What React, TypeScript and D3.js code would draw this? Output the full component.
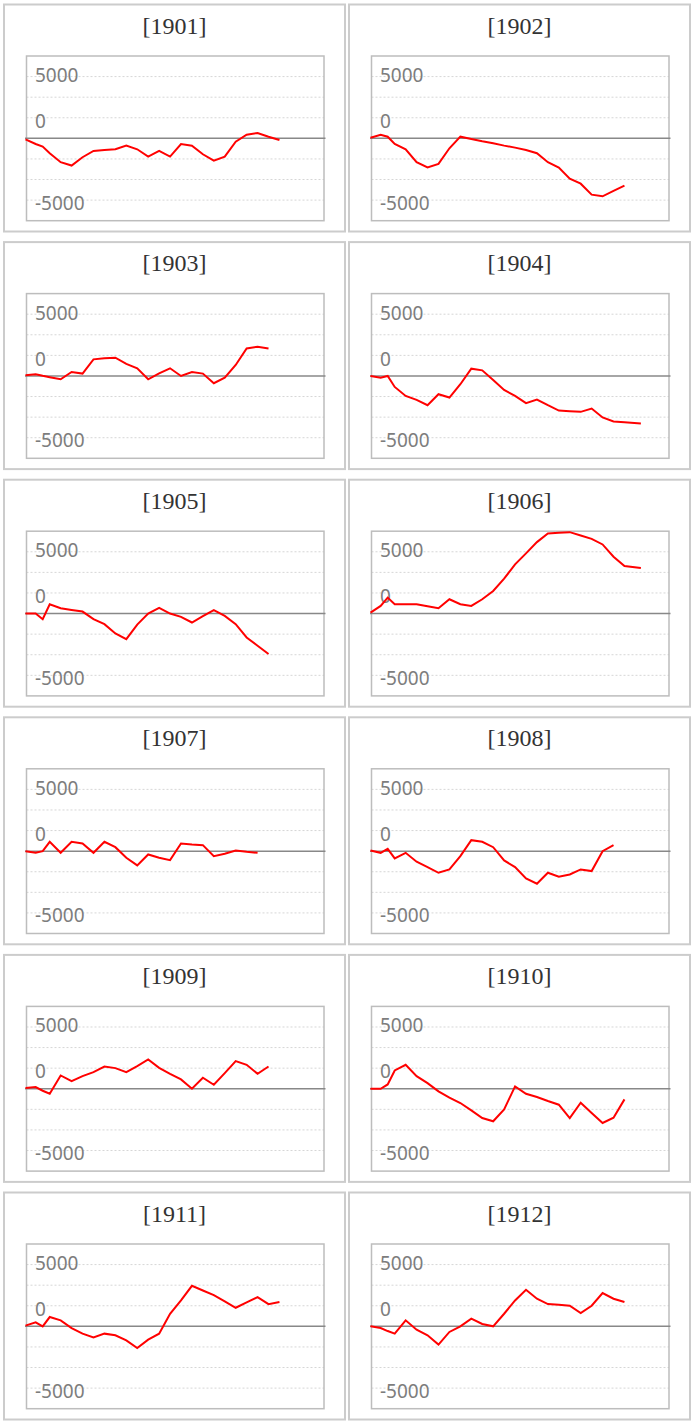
import * as d3 from "d3";
import { useEffect } from "react";

// panel titles
const years = ["1901", "1902", "1903", "1904", "1905", "1906", "1907", "1908", "1909", "1910", "1911", "1912"];

// x positions of the samples (days from start), shared by all series
const days = [0, 13, 22, 31, 45, 59, 73, 87, 101, 115, 129, 143, 157, 171, 185, 199, 213, 227, 241, 255, 269, 283, 297, 311, 325, 346];

// y axis labels as printed
const tickLabels = ["5000", "0", "-5000"];

const v1901 = [-80, -455, -670, -1200, -1930, -2200, -1530, -1020, -940, -885, -590, -885, -1475, -1020, -1475, -455, -590, -1290, -1800, -1475, -270, 295, 430, 135, -135];
const v1902 = [55, 295, 135, -455, -885, -1930, -2360, -2065, -805, 135, -55, -240, -400, -590, -750, -940, -1205, -1930, -2360, -3270, -3670, -4560, -4690, -4260, -3830];
const v1903 = [55, 135, 10, -100, -270, 320, 190, 1345, 1425, 1480, 970, 620, -270, 215, 620, 0, 320, 190, -590, -135, 890, 2230, 2370, 2230];
const v1904 = [0, -135, 0, -890, -1615, -1940, -2370, -1480, -1750, -670, 590, 455, -320, -1130, -1615, -2205, -1910, -2370, -2800, -2850, -2905, -2635, -3360, -3685, -3740, -3845];
const v1905 = [0, 0, -455, 755, 430, 295, 160, -455, -860, -1615, -2070, -890, 0, 455, 0, -270, -725, -215, 270, -190, -860, -1935, -2610, -3280];
const v1906 = [80, 620, 1290, 755, 755, 755, 590, 430, 1155, 755, 620, 1155, 1830, 2825, 3980, 4870, 5785, 6480, 6535, 6590, 6320, 6050, 5595, 4600, 3845, 3685];
const v1907 = [0, -135, 0, 755, -135, 755, 620, -135, 755, 320, -540, -1155, -270, -530, -725, 620, 540, 485, -405, -215, 55, -55, -135];
const v1908 = [55, -135, 190, -590, -135, -860, -1290, -1750, -1480, -405, 890, 755, 320, -755, -1290, -2205, -2635, -1750, -2070, -1885, -1480, -1615, 0, 485];
const v1909 = [55, 135, -160, -405, 1075, 620, 1020, 1345, 1800, 1670, 1345, 1830, 2370, 1695, 1210, 755, 0, 890, 320, 1265, 2235, 1935, 1210, 1800];
const v1910 = [0, 0, 350, 1480, 1935, 1020, 455, -215, -725, -1155, -1750, -2370, -2635, -1670, 190, -405, -670, -995, -1290, -2370, -1130, -1965, -2770, -2340, -860];
const v1911 = [55, 320, 0, 755, 485, -135, -590, -890, -590, -725, -1130, -1750, -1075, -590, 1020, 2100, 3280, 2905, 2530, 2020, 1505, 1935, 2370, 1800, 1965];
const v1912 = [0, -135, -380, -590, 485, -270, -725, -1480, -455, 0, 620, 190, 0, 1020, 2100, 2960, 2235, 1800, 1750, 1670, 1075, 1670, 2690, 2235, 1965];

const series = [v1901, v1902, v1903, v1904, v1905, v1906, v1907, v1908, v1909, v1910, v1911, v1912];

const W = 699;
const H = 1424;
const panelW = 343;
const panelH = 229;
const colX = [3, 348];
const rowTop = 3.5;
const rowStep = 237.6;
const plot = { left: 23.5, top: 52.5, w: 297.5, h: 164.7 };
const step = 5000 / 3;

const x = d3.scaleLinear().domain([0, 382]).range([-1, plot.w]);
const y = d3.scaleLinear().domain([-4 * step, 4 * step]).range([plot.h, 0]);
const grid = [-3, -2, -1, 1, 2, 3].map((k) => k * step);
// where each printed label sits, and its baseline shift
const labelAt = [3 * step, step, -3 * step];
const labelDy = [5.5, 10.3, 9.5];

const line = d3
  .line<number>()
  .x((_, i) => x(days[i]))
  .y((d) => y(d));

const Panel = ({ idx }: { idx: number }) => {
  const px = colX[idx % 2];
  const py = rowTop + Math.floor(idx / 2) * rowStep;
  return (
    <g transform={`translate(${px},${py})`}>
      <rect x={1} y={1} width={panelW - 2} height={panelH - 2} fill="#fff" stroke="#cccccc" strokeWidth={2} />
      <text
        x={panelW / 2}
        y={30}
        textAnchor="middle"
        fontFamily="'Liberation Serif', 'Times New Roman', serif"
        fontSize={24}
        fill="#333"
      >
        [{years[idx]}]
      </text>
      <g transform={`translate(${plot.left},${plot.top})`}>
        {grid.map((g) => (
          <line key={g} x1={0} x2={plot.w} y1={y(g)} y2={y(g)} stroke="#d6d6d6" strokeWidth={1} strokeDasharray="2,2" />
        ))}
        <rect x={0} y={0} width={plot.w} height={plot.h} fill="none" stroke="#bdbdbd" strokeWidth={1.5} />
        {tickLabels.map((t, i) => (
          <text
            key={t}
            x={8.5}
            y={y(labelAt[i]) + labelDy[i]}
            fontFamily="'Noto Sans', 'Open Sans', sans-serif"
            fontSize={19}
            fill="#7d7d7d"
          >
            {t}
          </text>
        ))}
        <line x1={-1.5} x2={plot.w + 1.5} y1={y(0)} y2={y(0)} stroke="#888" strokeWidth={1.5} />
        <path d={line(series[idx]) || ""} fill="none" stroke="#ff0000" strokeWidth={2} />
      </g>
    </g>
  );
};

export default function App() {
  useEffect(() => {
    document.body.style.margin = "0";
  }, []);
  return (
    <svg width={W} height={H} style={{ display: "block" }}>
      <rect width={W} height={H} fill="#fff" />
      {years.map((_, i) => (
        <Panel key={i} idx={i} />
      ))}
    </svg>
  );
}
